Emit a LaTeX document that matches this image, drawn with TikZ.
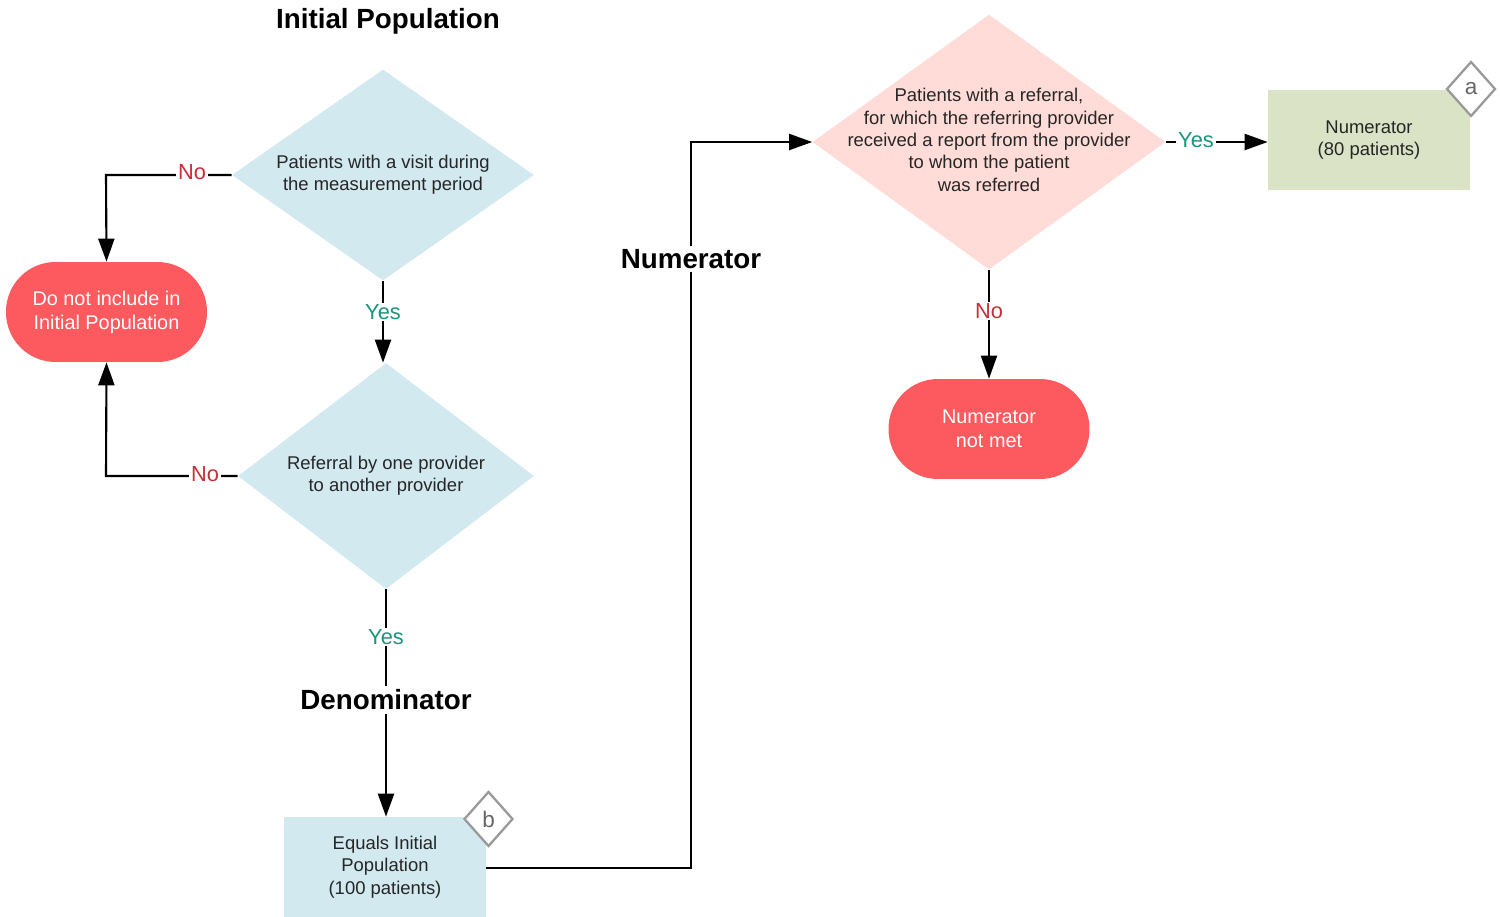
\documentclass[tikz,border=0pt]{standalone}
\usepackage{fontspec}
\setmainfont{Liberation Sans}
\usetikzlibrary{shapes.geometric,arrows.meta}
\definecolor{dblue}{HTML}{D1E9EF}
\definecolor{dpink}{HTML}{FFDCD8}
\definecolor{dgreen}{HTML}{DAE3C5}
\definecolor{dred}{HTML}{FC5A5F}
\definecolor{yescol}{HTML}{19967D}
\definecolor{nocol}{HTML}{C92D39}
\definecolor{markgray}{HTML}{999999}
\tikzset{
  body/.style={font=\fontsize{10.5pt}{12.7pt}\selectfont, align=center, text=black!85},
  dia/.style={diamond, draw=none, inner sep=0pt},
  terminal/.style={rectangle, rounded corners=0.99cm, fill=dred, minimum width=4.02cm, minimum height=2cm, inner sep=0pt, text=white, align=center, font=\fontsize{11.3pt}{13.6pt}\selectfont},
  result/.style={rectangle, minimum width=4.04cm, minimum height=2cm, inner sep=0pt, body},
  marker/.style={diamond, draw=markgray, line width=1.3pt, fill=white, minimum width=0.98cm, minimum height=1.1cm, inner sep=0pt, text=black!60, font=\fontsize{12.8pt}{13pt}\selectfont},
  conn/.style={line width=1.2pt, -{Triangle[length=0.46cm,width=0.32cm]}},
  yes/.style={fill=white, text=yescol, inner sep=1pt, font=\fontsize{12.4pt}{13pt}\selectfont},
  no/.style={fill=white, text=nocol, inner sep=1pt, font=\fontsize{12.4pt}{13pt}\selectfont},
  heading/.style={font=\bfseries\fontsize{15.8pt}{18pt}\selectfont, fill=white, inner sep=2pt}
}
\begin{document}
\begin{tikzpicture}[x=0.02cm,y=-0.02cm]
\useasboundingbox (0,0) rectangle (1500,916);

\node[heading] (title) at (388,21.5) {Initial Population};

\node[dia, fill=dblue, minimum width=6.04cm, minimum height=4.22cm,
  label={[body]center:{Patients with a visit during\\the measurement period}}] (d1) at (383,175) {};
\node[dia, fill=dblue, minimum width=5.92cm, minimum height=4.52cm,
  label={[body]center:{Referral by one provider\\to another provider}}] (d2) at (386,476) {};
\node[terminal] (excl) at (106.5,312) {Do not include in\\Initial Population};

\node[result, fill=dblue] (eq) at (385,867) {Equals Initial\\Population\\(100 patients)};
\node[marker] (mb) at (488.5,819) {b};

\node[dia, fill=dpink, minimum width=7.06cm, minimum height=5.1cm,
  label={[body, yshift=0.04cm]center:{Patients with a referral,\\for which the referring provider\\received a report from the provider\\to whom the patient\\was referred}}] (d3) at (989,142) {};
\node[result, fill=dgreen] (num) at (1369,140) {Numerator\\(80 patients)};
\node[marker] (ma) at (1471,89) {a};
\node[terminal] (nmet) at (989,429) {Numerator\\not met};

% connectors
\coordinate (c1) at (106,175);
\coordinate (c2) at (106,476);
\draw[conn] (d1.west) -- (c1) -- (excl.north);
\node[no] at (192,172) {No};
\draw[conn] (d2.west) -- (c2) -- (excl.south);
\node[no] at (205,474) {No};

\draw[conn] (d1.south) -- (d1.south |- d2.north);
\node[yes] at (383,312) {Yes};

\draw[conn] (d2.south) -- (d2.south |- eq.north);
\node[yes] at (386,637) {Yes};
\node[heading] (den) at (386,700) {Denominator};

\coordinate (c3) at (691,868);
\coordinate (c4) at (691,142);
\draw[conn] (eq.east |- c3) -- (c3) -- (c4) -- (d3.west);
\node[heading] (numlab) at (691,259) {Numerator};

\draw[conn] (d3.east) -- (num.west |- d3.east);
\node[yes] at (1196,140) {Yes};

\draw[conn] (d3.south) -- (nmet.north);
\node[no] at (989,311) {No};
\end{tikzpicture}
\end{document}
